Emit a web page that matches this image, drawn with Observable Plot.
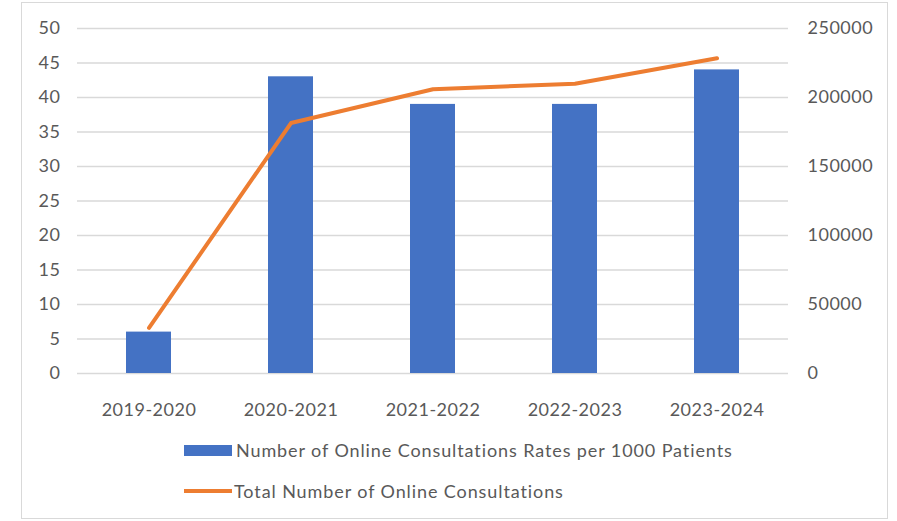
<!DOCTYPE html>
<html><head><meta charset="utf-8">
<script src="https://cdn.jsdelivr.net/npm/d3@7"></script>
<script src="https://cdn.jsdelivr.net/npm/@observablehq/plot@0.6"></script>
<style>
body{margin:0;background:#fff;width:897px;height:521px;position:relative;overflow:hidden;font-family:Lato,sans-serif;}
#frame{position:absolute;left:21px;top:2px;width:867px;height:517px;border:1px solid #d9d9d9;box-sizing:border-box;}
#chart{position:absolute;left:0;top:0;}
.leg{position:absolute;left:184px;height:20px;font-size:18px;letter-spacing:0.9px;color:#595959;display:flex;align-items:center;white-space:nowrap;}
.sw{display:inline-block;width:48px;margin-right:4px;}
#chart svg text{letter-spacing:0.5px;}
</style></head>
<body>
<div id="frame"></div>
<div id="chart"></div>
<div class="leg" style="top:440px;"><span class="sw" style="height:11px;background:#4472C4;"></span><span id="l1"></span></div>
<div class="leg" style="top:481px;"><span class="sw" style="height:4px;background:#ED7D31;margin-right:2px;"></span><span id="l2"></span></div>
<script>
const categories = ["2019-2020", "2020-2021", "2021-2022", "2022-2023", "2023-2024"];
const ratePer1000 = [6, 43, 39, 39, 44];
const totalConsultations = [33000, 181500, 206000, 210000, 228500];
const leftTicks = [0, 5, 10, 15, 20, 25, 30, 35, 40, 45, 50];
const rightTicks = [0, 50000, 100000, 150000, 200000, 250000];
const seriesNames = ["Number of Online Consultations Rates per 1000 Patients", "Total Number of Online Consultations"];

const ratio = 250000 / 50;
const data = categories.map((c, i) => ({cat: c, rate: ratePer1000[i], total: totalConsultations[i]}));

document.getElementById("l1").textContent = seriesNames[0];
document.getElementById("l2").textContent = seriesNames[1];

const chart = Plot.plot({
  width: 897,
  height: 420,
  marginLeft: 77,
  marginRight: 109,
  marginTop: 28,
  marginBottom: 47,
  style: {fontFamily: "Lato, sans-serif", fontSize: "18px", color: "#595959", background: "transparent"},
  x: {domain: categories, paddingInner: 0.68, paddingOuter: 0.34, label: null},
  y: {domain: [0, 50], label: null},
  marks: [
    Plot.gridY(leftTicks, {stroke: "#d9d9d9", strokeOpacity: 1, strokeWidth: 1.5}),
    Plot.barY(data, {x: "cat", y: "rate", fill: "#4472C4"}),
    Plot.line(data, {x: "cat", y: d => d.total / ratio, stroke: "#ED7D31", strokeWidth: 4, strokeLinejoin: "round", strokeLinecap: "round"}),
    Plot.axisX({tickSize: 0, tickPadding: 30, label: null, fill: "#595959"}),
    Plot.axisY(leftTicks, {anchor: "left", tickSize: 0, tickPadding: 17, label: null, fill: "#595959"}),
    Plot.axisY(rightTicks.map(v => v / ratio), {anchor: "right", tickSize: 0, tickPadding: 19, label: null, fill: "#595959", textAnchor: "start", tickFormat: v => String(Math.round(v * ratio))})
  ]
});
document.getElementById("chart").appendChild(chart);
</script>
</body></html>
